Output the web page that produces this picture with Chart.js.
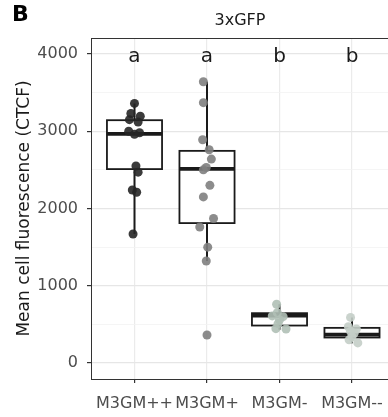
<!DOCTYPE html>
<html>
<head>
<meta charset="utf-8">
<script src="https://cdn.jsdelivr.net/npm/chart.js@4.4.1/dist/chart.umd.min.js"></script>
<style>
    html, body { margin: 0; padding: 0; background: #fff; overflow: hidden; }
    #wrap { width: 400px; height: 417px; }
</style>
</head>
<body>
<div id="wrap"><canvas id="grafico" width="400" height="417"></canvas></div>
<script>
// categories and significance letters
const categorias = ['M3GM++', 'M3GM+', 'M3GM-', 'M3GM--'];
const letras = ['a', 'a', 'b', 'b'];
const yTicks = [0, 500, 1000, 1500, 2000, 2500, 3000, 3500, 4000];

// box statistics
const boxMin = [1670, 1320, 430, 255];
const boxQ1 = [2510, 1811, 485, 330];
const boxMediana = [2966, 2513, 612, 368];
const boxQ3 = [3143, 2746, 645, 455];
const boxMax = [3360, 3640, 760, 590];

// individual cells + horizontal jitter
const pontosPP = [3360, 3230, 3195, 3150, 3120, 3000, 2980, 2960, 2550, 2470, 2240, 2210, 1670];
const jitterPP = [0.0, -0.05, 0.08, -0.07, 0.05, -0.08, 0.07, 0.0, 0.02, 0.05, -0.03, 0.03, -0.02];
const pontosP = [3640, 3370, 2890, 2760, 2640, 2530, 2500, 2300, 2150, 1870, 1760, 1500, 1320, 362];
const jitterP = [-0.05, -0.05, -0.06, 0.03, 0.06, -0.01, -0.05, 0.04, -0.05, 0.09, -0.1, 0.01, -0.01, 0.0];
const pontosM = [760, 650, 610, 600, 560, 510, 445, 440];
const jitterM = [-0.04, -0.03, -0.1, 0.05, 0.0, -0.02, -0.05, 0.09];
const pontosMM = [590, 470, 440, 410, 385, 340, 300, 260];
const jitterMM = [-0.02, -0.05, 0.06, -0.02, 0.03, 0.0, -0.04, 0.08];

const cores = ['rgba(38,38,38,0.9)', 'rgba(128,128,128,0.9)', 'rgba(176,192,182,0.9)', 'rgba(196,206,200,0.9)'];
const larguraBox = 0.76;

Chart.defaults.font.family = 'DejaVu Sans';

function pontos(valores, jitter, i) {
    return valores.map((v, k) => ({ x: i + 1 + jitter[k], y: v }));
}

const boxPlugin = {
    id: 'boxes',
    beforeDatasetsDraw(chart) {
        const { ctx, scales: { x, y } } = chart;
        ctx.save();
        ctx.strokeStyle = '#1a1a1a';
        categorias.forEach((c, i) => {
            const cx = x.getPixelForValue(i + 1);
            const left = x.getPixelForValue(i + 1 - larguraBox / 2);
            const right = x.getPixelForValue(i + 1 + larguraBox / 2);
            const top = y.getPixelForValue(boxQ3[i]);
            const bottom = y.getPixelForValue(boxQ1[i]);
            ctx.lineWidth = 2;
            ctx.beginPath();
            ctx.moveTo(cx, y.getPixelForValue(boxMax[i]));
            ctx.lineTo(cx, top);
            ctx.moveTo(cx, bottom);
            ctx.lineTo(cx, y.getPixelForValue(boxMin[i]));
            ctx.stroke();
            ctx.fillStyle = '#fff';
            ctx.fillRect(left, top, right - left, bottom - top);
            ctx.lineWidth = 1.8;
            ctx.strokeRect(left, top, right - left, bottom - top);
            const med = y.getPixelForValue(boxMediana[i]);
            ctx.lineWidth = 3.6;
            ctx.beginPath();
            ctx.moveTo(left, med);
            ctx.lineTo(right, med);
            ctx.stroke();
        });
        ctx.restore();
    },
    afterDatasetsDraw(chart) {
        const { ctx, scales: { x, y } } = chart;
        ctx.save();
        ctx.fillStyle = '#1a1a1a';
        ctx.font = '20px "DejaVu Sans"';
        ctx.textAlign = 'center';
        ctx.textBaseline = 'alphabetic';
        letras.forEach((l, i) => {
            ctx.fillText(l, x.getPixelForValue(i + 1), y.getPixelForValue(4000) + 8);
        });
        ctx.restore();
    },
    afterDraw(chart) {
        const { ctx, chartArea } = chart;
        ctx.save();
        ctx.strokeStyle = '#333';
        ctx.lineWidth = 1;
        ctx.beginPath();
        ctx.moveTo(chartArea.left, chartArea.top + 0.5);
        ctx.lineTo(chartArea.right, chartArea.top + 0.5);
        ctx.lineTo(chartArea.right - 0.5, chartArea.bottom);
        ctx.stroke();
        ctx.fillStyle = '#1a1a1a';
        ctx.font = '16px "DejaVu Sans"';
        ctx.textAlign = 'center';
        ctx.fillText('3xGFP', 240, 25);
        ctx.fillStyle = '#000';
        ctx.font = 'bold 22px "DejaVu Sans"';
        ctx.textAlign = 'left';
        ctx.fillText('B', 12, 21);
        ctx.restore();
    }
};

new Chart(document.getElementById('grafico'), {
    type: 'scatter',
    data: {
        datasets: [
            { label: categorias[0], data: pontos(pontosPP, jitterPP, 0), backgroundColor: cores[0] },
            { label: categorias[1], data: pontos(pontosP, jitterP, 1), backgroundColor: cores[1] },
            { label: categorias[2], data: pontos(pontosM, jitterM, 2), backgroundColor: cores[2] },
            { label: categorias[3], data: pontos(pontosMM, jitterMM, 3), backgroundColor: cores[3] }
        ]
    },
    options: {
        responsive: false,
        animation: false,
        devicePixelRatio: 1,
        layout: { padding: { top: 38, right: 2, bottom: 0, left: 0 } },
        elements: { point: { radius: 4.5, borderWidth: 0, hoverRadius: 4.5 } },
        plugins: { legend: { display: false }, tooltip: { enabled: false } },
        scales: {
            x: {
                type: 'linear',
                min: 0.4,
                max: 4.6,
                afterBuildTicks: s => { s.ticks = categorias.map((c, i) => ({ value: i + 1 })); },
                afterFit: s => { s.height = 38; },
                ticks: {
                    autoSkip: false,
                    maxRotation: 0,
                    padding: 11,
                    color: '#4d4d4d',
                    font: { size: 16 },
                    callback: v => categorias[v - 1]
                },
                grid: { color: '#ebebeb', lineWidth: 1.2, tickLength: 4, tickColor: '#333' },
                border: { display: true, color: '#333', width: 1 }
            },
            y: {
                min: -207,
                max: 4207,
                afterBuildTicks: s => { s.ticks = yTicks.map(v => ({ value: v })); },
                afterFit: s => { s.width = 91; },
                ticks: {
                    autoSkip: false,
                    padding: 9,
                    color: '#4d4d4d',
                    font: { size: 16 },
                    callback: v => (v % 1000 === 0 ? v : '')
                },
                grid: {
                    color: c => (c.tick && c.tick.value % 1000 === 0 ? '#e6e6e6' : '#f2f2f2'),
                    lineWidth: c => (c.tick && c.tick.value % 1000 === 0 ? 1.2 : 0.8),
                    tickLength: 4,
                    tickColor: c => (c.tick && c.tick.value % 1000 === 0 ? '#333' : 'rgba(0,0,0,0)')
                },
                border: { display: true, color: '#333', width: 1 },
                title: {
                    display: true,
                    text: 'Mean cell fluorescence (CTCF)',
                    color: '#1a1a1a',
                    font: { size: 17 },
                    padding: { top: 14, bottom: 0 }
                }
            }
        }
    },
    plugins: [boxPlugin]
});
</script>
</body>
</html>
